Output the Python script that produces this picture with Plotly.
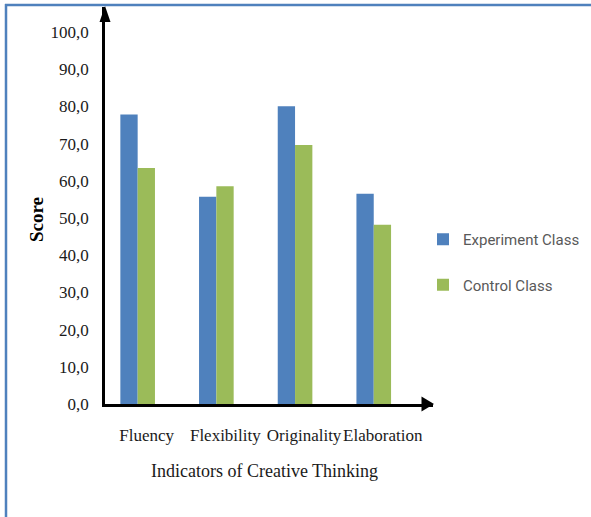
import plotly.graph_objects as go

categories = ["Fluency", "Flexibility", "Originality", "Elaboration"]
experiment = [77.8, 55.7, 80.0, 56.5]
control = [63.4, 58.5, 69.6, 48.2]
series_names = ["Experiment Class", "Control Class"]
y_ticks = [0, 10, 20, 30, 40, 50, 60, 70, 80, 90, 100]

W, H = 591, 517
L, R, T, B = 105, 433, 7, 404  # plot area in pixels


def px(x):
    return (x - L) / (R - L)


def py(y):
    return (B - y) / (B - T)


fig = go.Figure()
fig.add_bar(x=categories, y=experiment, name=series_names[0],
            marker=dict(color="#4F81BD", line=dict(width=0)), legendgroup="a")
fig.add_bar(x=categories, y=control, name=series_names[1],
            marker=dict(color="#9BBB59", line=dict(width=0)), legendgroup="b")

serif = "Liberation Serif, Times New Roman, serif"

fig.update_layout(
    width=W, height=H,
    margin=dict(l=L, r=W - R, t=T, b=H - B, pad=0, autoexpand=False),
    paper_bgcolor="white", plot_bgcolor="white",
    barmode="group", bargap=0.56, bargroupgap=0,
    separators=",.",
    showlegend=True,
    legend=dict(x=px(423), y=py(223), xanchor="left", yanchor="top",
                font=dict(family="Roboto, sans-serif", size=15, color="#595959"),
                tracegroupgap=23, bgcolor="rgba(0,0,0,0)"),
    xaxis=dict(range=[-0.415, 3.753], showline=True, linecolor="black", linewidth=2.5,
               showgrid=False, zeroline=False, ticks="", tickangle=0, automargin=False,
               tickfont=dict(family=serif, size=17, color="#1a1a1a"),
               ticklabelshift=9, ticklabelstandoff=14),
    yaxis=dict(range=[0, 106.7], showline=True, linecolor="black", linewidth=2.5,
               showgrid=False, zeroline=False, ticks="", automargin=False,
               tickvals=y_ticks, tickformat=".1f",
               tickfont=dict(family=serif, size=17, color="#1a1a1a"),
               ticklabelstandoff=10),
)

# arrowheads
fig.add_shape(type="path", xref="paper", yref="paper",
              path=f"M {px(105)},{py(6)} L {px(99.5)},{py(22)} L {px(110.5)},{py(22)} Z",
              fillcolor="black", line=dict(width=0))
fig.add_shape(type="path", xref="paper", yref="paper",
              path=f"M {px(434)},{py(404)} L {px(421.5)},{py(396.5)} L {px(421.5)},{py(411.5)} Z",
              fillcolor="black", line=dict(width=0))

# frame lines (top and left)
fig.add_shape(type="line", xref="paper", yref="paper",
              x0=px(5), x1=px(W + 5), y0=py(5), y1=py(5),
              line=dict(color="#4F81BD", width=2.5))
fig.add_shape(type="line", xref="paper", yref="paper",
              x0=px(6), x1=px(6), y0=py(4), y1=py(H + 5),
              line=dict(color="#4F81BD", width=2.5))

fig.add_annotation(text="<b>Score</b>", textangle=-90, xref="paper", yref="paper",
                   x=px(37), y=py(220), xanchor="center", yanchor="middle", showarrow=False,
                   font=dict(family=serif, size=19, color="black"))
fig.add_annotation(text="Indicators of Creative Thinking", xref="paper", yref="paper",
                   x=px(264), y=py(471), xanchor="center", yanchor="middle", showarrow=False,
                   font=dict(family=serif, size=18, color="#1a1a1a"))

fig.write_html("out.html")
